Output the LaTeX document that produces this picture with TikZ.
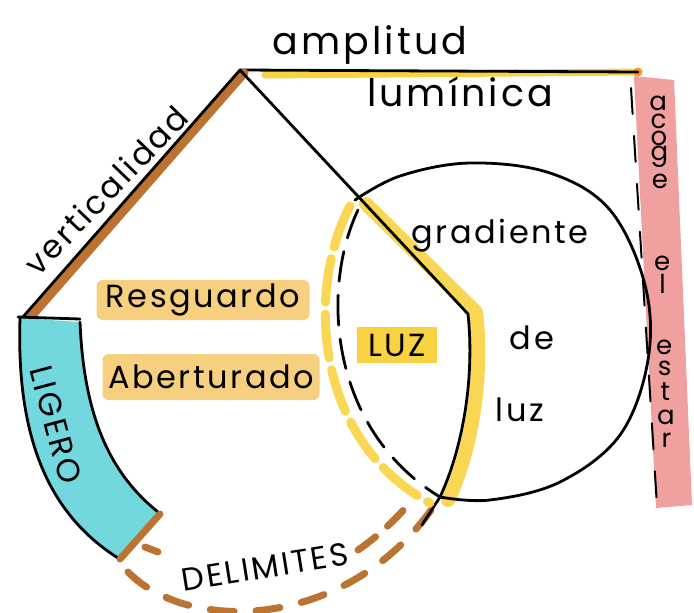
\documentclass[tikz,border=0pt]{standalone}
\usepackage{xcolor}
\usepackage{fontspec}
\setmainfont{Poppins}
\newfontfamily\mano{Poppins}[LetterSpace=8]
\usepackage{tikz}
\usetikzlibrary{positioning}
\definecolor{cafe}{RGB}{188,114,48}
\definecolor{amarillo}{RGB}{248,210,64}
\definecolor{crema}{RGB}{246,208,126}
\definecolor{turquesa}{RGB}{114,216,222}
\definecolor{rosa}{RGB}{240,160,158}
\tikzstyle{tinta} = [line width=2.8pt, line cap=round, line join=round]
\tikzstyle{plumon} = [line cap=round, line join=round, line width=9pt]
\tikzstyle{palabra} = [inner sep=1pt, font=\mano\fontsize{32}{36}\selectfont]
\tikzstyle{grande} = [inner sep=1pt, font=\mano\fontsize{38}{40}\selectfont]
\tikzstyle{resalte} = [palabra, fill=crema, rounded corners=6pt]
\tikzstyle{letra} = [inner sep=0pt, font=\mano\fontsize{26}{26}\selectfont]

\begin{document}
\begin{tikzpicture}[x=1pt, y=-1pt]
\useasboundingbox (0,0) rectangle (694,613);

\coordinate (cima) at (240,70);
\coordinate (esquina) at (638,72);
\coordinate (pie) at (22,318);
\coordinate (codo) at (468,314);
\coordinate (cruce) at (440,497);

% franja rosa
\fill[rosa] (634,76) -- (674,80) -- (692,505) -- (656,508) -- cycle;
\draw[tinta, line width=2pt, dash pattern=on 26pt off 22pt] (631,88) -- (657,506);
\foreach \l/\y in {a/103, c/121, o/138, g/157, e/181, e/263, l/284, e/347, s/368, t/392, a/417, r/440}
  \node[letra] at ({658+(\y-100)*0.025},\y) {\l};

% linea superior
\draw[plumon, amarillo, line width=7pt] (265,75) -- (esquina);
\fill[orange!70!amarillo] (esquina) circle (4.5pt);
\draw[tinta] (cima) -- (esquina);
\node (amplitud) [grande] at (370,45) {amplitud};
\node (luminica) [grande] at (460,92) {lumínica};

% verticalidad
\draw[plumon, cafe] (244,73) -- (27,321);
\draw[tinta] (cima) -- (pie);
\node (vertical) [palabra, rotate=46] at (106,190) {verticalidad};

% ligero
\fill[turquesa] (20,318) -- (80,322) .. controls (84,420) and (112,475) .. (158,512)
   -- (118,558) .. controls (50,515) and (16,440) .. cycle;
\draw[tinta] (20,318) .. controls (16,440) and (50,515) .. (118,558);
\draw[tinta] (80,322) .. controls (84,420) and (112,475) .. (158,512);
\draw[tinta] (18,317) -- (80,319);
\draw[plumon, cafe, line width=7pt] (120,559) -- (160,514);
\node (ligero) [palabra, rotate=-75] at (56,425) {LIGERO};

% delimites
\draw[plumon, cafe, line width=7pt, dash pattern=on 24pt off 22pt]
  (128,572) .. controls (190,635) and (350,630) .. (436,503);
\draw[plumon, cafe, line width=7pt] (145,547) -- (158,552);
\draw[plumon, cafe, line width=7pt, dash pattern=on 22pt off 16pt]
  (358,550) .. controls (380,535) and (400,515) .. (412,500);
\draw[tinta] (cruce) -- (422,525);
\node (delimites) [palabra, rotate=9] at (265,567) {DELIMITES};

% luz
\draw[plumon, amarillo, line width=14pt, opacity=0.9]
  (366,204) -- (476,312) .. controls (484,380) and (470,455) .. (448,500);
\draw[plumon, amarillo, line width=9pt, opacity=0.9, dash pattern=on 44pt off 12pt]
  (350,206) .. controls (306,290) and (314,440) .. (430,503);
\draw[tinta, dash pattern=on 30pt off 14pt]
  (358,210) .. controls (320,290) and (330,430) .. (cruce);
\draw[tinta] (cima) -- (codo) .. controls (475,380) and (462,450) .. (cruce);
\draw[tinta] plot[smooth, tension=0.6] coordinates {(355,200) (400,176) (470,163) (550,173)
  (610,210) (645,285) (648,360) (620,435) (560,482) (490,500) (cruce)};
\node (LUZ) [palabra, fill=amarillo, minimum width=80pt, minimum height=36pt] at (397,345) {LUZ};
\node (gradiente) [palabra] at (500,236) {gradiente};
\node (de) [palabra] at (532,338) {de};
\node (luz) [palabra] at (520,410) {luz};

% resguardo y aberturado
\node (resguardo) [resalte, minimum width=213pt, minimum height=40pt] at (203,300) {Resguardo};
\node (aberturado) [resalte, minimum width=217pt, minimum height=46pt] at (211,377) {Aberturado};

\end{tikzpicture}
\end{document}
